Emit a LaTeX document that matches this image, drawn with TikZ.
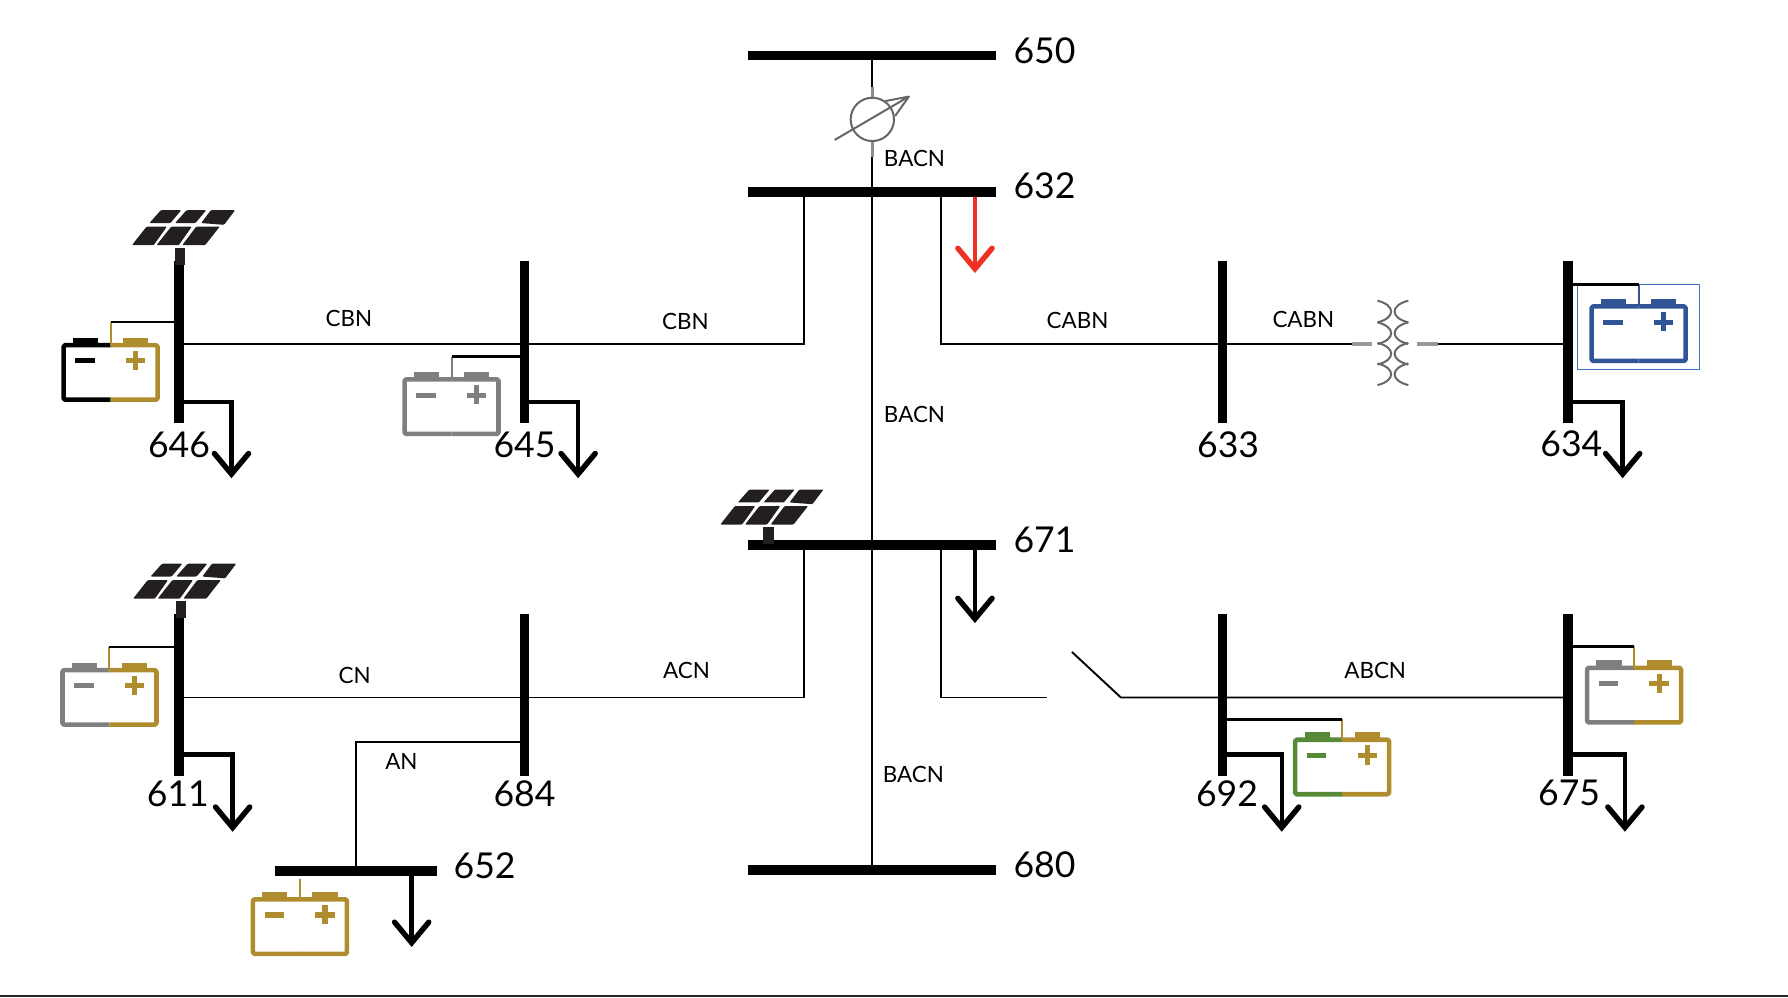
\documentclass[tikz,border=0pt]{standalone}
\usepackage{fontspec}
\setmainfont{Lato}
\usetikzlibrary{calc}
\definecolor{gold}{HTML}{AF8D2F}
\definecolor{bgray}{HTML}{7F7F7F}
\definecolor{bgreen}{HTML}{568A37}
\definecolor{bblue}{HTML}{2F5597}
\definecolor{boxblue}{HTML}{4472C4}
\definecolor{redload}{HTML}{EE3124}
\definecolor{solarblk}{HTML}{231F20}
\tikzset{
 hbus/.style={fill=black,inner sep=0pt,outer sep=0pt,minimum height=9.8pt,minimum width=#1},
 vbus/.style={fill=black,inner sep=0pt,outer sep=0pt,minimum width=9.8pt,minimum height=162pt},
 wire/.style={draw=black,line width=1.9pt},
 loadw/.style={line width=4.4pt,line join=miter},
 big/.style={inner sep=0pt,yshift=0.7pt,font=\fontsize{35.6}{38}\selectfont},
 small/.style={inner sep=0pt,yshift=0.7pt,font=\fontsize{22.4}{24}\selectfont},
 tapw/.style={draw=black,line width=2.6pt},
 sym/.style={draw=black!60,line width=2pt},
}
\newcommand\chevron[2][black]{\draw[#1,line width=5.4pt,line cap=round,line join=miter] ($(#2)+(-15,-18)$) -- (#2) -- ($(#2)+(15,-18)$);}
% battery: cx, top of body, left colour, right colour
\newcommand\batt[4]{%
\begin{scope}[shift={(#1,#2)}]
 \fill[#3] (-33,-6.5) rectangle (-11,0.5);
 \fill[#4] (11,-6.5) rectangle (33,0.5);
 \draw[#3,line width=4.6pt,line join=round,rounded corners=1.5pt] (0,0) -- (-41.2,0) -- (-41.2,47.8) -- (0,47.8);
 \draw[#4,line width=4.6pt,line join=round,rounded corners=1.5pt] (0,0) -- (41.2,0) -- (41.2,47.8) -- (0,47.8);
 \fill[#3] (-31,11.5) rectangle (-14,16);
 \fill[#4] (13.5,11.5) rectangle (30.5,16);
 \fill[#4] (19.7,5) rectangle (24.3,22);
\end{scope}}
% solar panel: lower-left corner, pillar drawn from it
\newcommand\solar[2]{%
\begin{scope}[shift={(#1,#2)},scale=0.313]
 \fill[solarblk,rounded corners=1pt]
  (48,-61)--(80,-97)--(137,-97)--(107,-61)--cycle
  (120,-61)--(152,-97)--(207,-97)--(177,-61)--cycle
  (193,-61)--(220,-97)--(288,-97)--(257,-56)--cycle
  (-1,1)--(40,-51)--(97,-51)--(60,1)--cycle
  (68,1)--(109,-51)--(167,-51)--(130,1)--cycle
  (140,1)--(179,-51)--(245,-51)--(204,1)--cycle;
 \fill[solarblk] (119,8) rectangle (148,56);
\end{scope}}
\begin{document}
\begin{tikzpicture}[x=1.1403pt,y=-1.1403pt]
\useasboundingbox (0,-0.7) rectangle (1568,874.5);
\draw[black!85,line width=1.6pt] (0,872.6) -- (1568,872.6);
% horizontal buses
\node[hbus=248pt] (b650) at (764.5,48) {};
\node[hbus=248pt] (b632) at (764.5,168) {};
\node[hbus=248pt] (b671) at (764.5,477) {};
\node[hbus=248pt] (b680) at (764.5,762) {};
\node[hbus=162pt] (b652) at (312,763) {};
% vertical buses
\node[vbus] (b646) at (157,299.5) {};
\node[vbus] (b645) at (460,299.5) {};
\node[vbus] (b633) at (1072,299.5) {};
\node[vbus] (b634) at (1375,299.5) {};
\node[vbus] (b611) at (157,609) {};
\node[vbus] (b684) at (460,609) {};
\node[vbus] (b692) at (1072,609) {};
\node[vbus] (b675) at (1375,609) {};
% junction coordinates
\coordinate (a1) at (705,168); \coordinate (a2) at (705,301); \coordinate (a3) at (157,301);
\coordinate (c1) at (825,168); \coordinate (c2) at (825,301); \coordinate (c3) at (1186,301);
\coordinate (xl) at (1203,301); \coordinate (xr) at (1243,301); \coordinate (c4) at (1261,301); \coordinate (c5) at (1375,301);
\coordinate (d1) at (705,477); \coordinate (d2) at (705,611); \coordinate (d3) at (157,611);
\coordinate (e1) at (825,477); \coordinate (e2) at (825,611); \coordinate (e3) at (918,611);
\coordinate (s1) at (940,571); \coordinate (s2) at (983,611); \coordinate (s3) at (1375,611);
\coordinate (n1) at (460,650); \coordinate (n2) at (312,650); \coordinate (n3) at (312,763);
% lines
\draw[wire] (b650.center) -- (b680.center);
\draw[wire] (a1) -- (a2) -- (a3);
\draw[wire] (c1) -- (c2) -- (c3);
\draw[wire] (c4) -- (c5);
\draw[wire] (d1) -- (d2) -- (d3);
\draw[wire] (e1) -- (e2) -- (e3);
\draw[wire] (s1) -- (s2) -- (s3);
\draw[wire] (n1) -- (n2) -- (n3);
% phase shifter
\coordinate (ps) at (765,104);
\fill[white] ($(ps)+(-5,-28)$) rectangle ($(ps)+(5,33)$);
\draw[sym,line width=3pt,draw=black!45] ($(ps)+(0,-28)$) -- ($(ps)+(0,-19)$);
\draw[sym,line width=3pt,draw=black!45] ($(ps)+(0,19)$) -- ($(ps)+(0,33)$);
\draw[sym,fill=white] (ps) circle (19);
\draw[sym,line join=round] ($(ps)+(-33,18)$) -- ($(ps)+(32,-20)$) -- ($(ps)+(11,-16)$);
\draw[sym] ($(ps)+(32,-20)$) -- ($(ps)+(20,-3)$);
% transformer
\draw[draw=black!40,line width=3.4pt] (c3) -- (xl) (xr) -- (c4);
\foreach \yy in {263,282,300,318}{
 \draw[sym] (1208,\yy) .. controls (1224,\yy+4) and (1224,\yy+15) .. (1208,\yy+19);
 \draw[sym] (1235,\yy) .. controls (1219,\yy+4) and (1219,\yy+15) .. (1235,\yy+19);
}
% loads
\foreach \nm/\yy/\xx/\ee in {b646/352/203/415,b645/352/507/415,b634/352/1423/415,b611/661/204/725,b675/661/1425/725,b692/661/1124/725}{
 \coordinate (tip) at (\xx,\ee);
 \draw[loadw] (\nm |- {0,\yy}) -| (tip);
 \chevron{tip}
}
\coordinate (l652) at (361,826); \draw[loadw] (b652 -| l652) -- (l652); \chevron{l652}
\coordinate (l671) at (855,542); \draw[loadw] (b671 -| l671) -- (l671); \chevron{l671}
\coordinate (l632) at (855,235); \coordinate (l632t) at (855,172);
\draw[loadw,redload] (l632t) -- (l632); \chevron[redload]{l632}
% batteries
\batt{97}{302}{black}{gold}
\batt{396}{332}{bgray}{bgray}
\batt{1437}{268}{bblue}{bblue}
\batt{96}{587}{bgray}{gold}
\batt{1433}{585}{bgray}{gold}
\batt{1177}{648}{bgreen}{gold}
\batt{263}{788}{gold}{gold}
\draw[boxblue,line width=1.1pt] (1383,249) rectangle (1490,323);
% battery tap lines
\draw[gold,line width=2pt] (97,282)--(97,302);
\draw[bgray,line width=2pt] (396,312)--(396,332);
\draw[bblue,line width=2pt] (1437,249)--(1437,268);
\draw[gold,line width=2pt] (96,567)--(96,587);
\draw[gold,line width=2pt] (1433,566)--(1433,585);
\draw[gold,line width=2pt] (1177,630)--(1177,648);
\draw[gold,line width=2pt] (263,770)--(263,788);
\coordinate (t646) at (97,282); \coordinate (t645) at (396,312); \coordinate (t634) at (1437,249);
\coordinate (t611) at (96,567); \coordinate (t675) at (1433,566); \coordinate (t692) at (1177,630);
\draw[tapw,line width=2pt] (t646) -- (b646 |- t646);
\draw[tapw] (t645) -- (b645 |- t645);
\draw[tapw,line width=3.2pt] (t634) -- (b634 |- t634);
\draw[tapw,line width=2pt] (t611) -- (b611 |- t611);
\draw[tapw,line width=3.2pt] (t675) -- (b675 |- t675);
\draw[tapw,line width=3.2pt] (t692) -- (b692 |- t692);
% solar panels
\solar{116}{214}
\solar{117}{524}
\solar{632}{459}
% bus labels
\node[big] (n650) at (916,44) {650};
\node[big] (n632) at (916,163) {632};
\node[big] (n671) at (916,473) {671};
\node[big] (n680) at (916,758) {680};
\node[big] (n652) at (425,759) {652};
\node[big] (n646) at (157,390) {646};
\node[big] (n645) at (460,390) {645};
\node[big] (n633) at (1077,390) {633};
\node[big] (n634) at (1378,389) {634};
\node[big] (n611) at (156,696) {611};
\node[big] (n684) at (460,696) {684};
\node[big] (n692) at (1076,696) {692};
\node[big] (n675) at (1376,695) {675};
% line labels
\node[small] (p1) at (802,139) {BACN};
\node[small] (p2) at (802,363) {BACN};
\node[small] (p3) at (801,679) {BACN};
\node[small] (p4) at (306,279) {CBN};
\node[small] (p5) at (601,282) {CBN};
\node[small] (p6) at (945,281) {CABN};
\node[small] (p7) at (1143,280) {CABN};
\node[small] (p8) at (311,592) {CN};
\node[small] (p9) at (602,588) {ACN};
\node[small] (p10) at (352,668) {AN};
\node[small] (p11) at (1206,588) {ABCN};
\end{tikzpicture}
\end{document}
